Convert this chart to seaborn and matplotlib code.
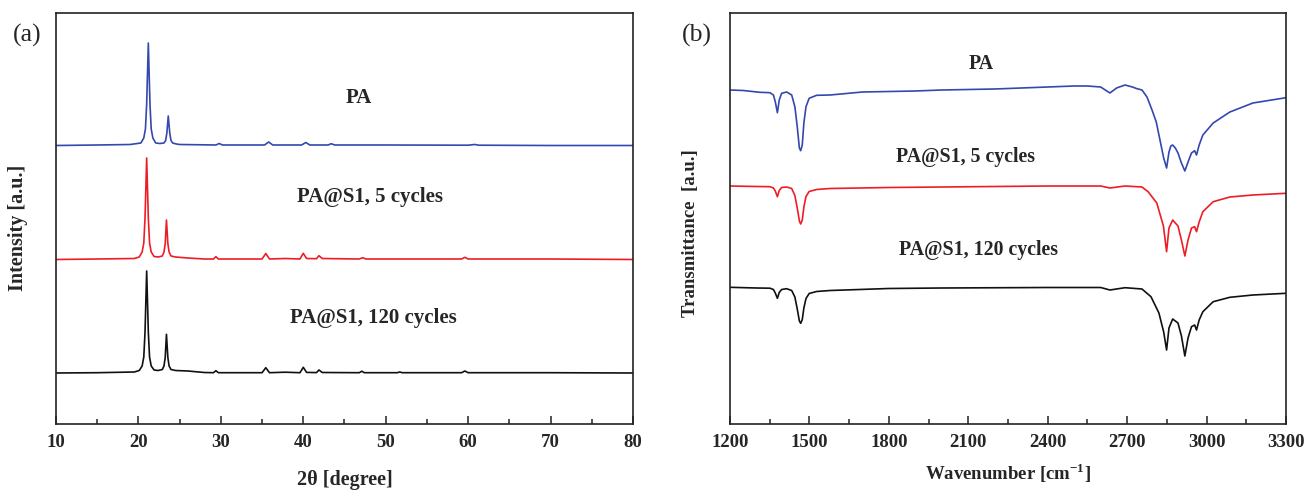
import matplotlib
matplotlib.use("Agg")
import matplotlib.pyplot as plt
from matplotlib.ticker import MultipleLocator
import seaborn as sns

# ---------------- XRD patterns (2theta in degrees, intensity in a.u., stacked) ----------------
xrd_pa_2theta = [10, 15, 19, 20.3, 20.65, 20.85, 21.0, 21.2, 21.4, 21.55, 21.75, 22.1,
                 22.6, 23.1, 23.3, 23.45, 23.62, 23.8, 23.95, 24.15, 24.6, 25,
                 29.4, 29.8, 30.2, 35.3, 35.8, 36.3, 39.8, 40.3, 40.8,
                 43.0, 43.4, 43.8, 50, 60, 60.8, 61.3, 70, 80]
xrd_pa_int = [278.5, 279, 279.5, 281, 286, 295, 320, 381, 320, 295, 286, 281,
              280.5, 281, 283.5, 291, 308, 291, 283.5, 281, 280, 279.5,
              279, 280.5, 279, 279, 282, 279, 279, 281.5, 279,
              279, 280.3, 279, 279, 278.8, 279.5, 278.8, 278.5, 278.5]

xrd_s1_5_2theta = [10, 15, 19.5, 20.1, 20.45, 20.65, 20.8, 21.0, 21.2, 21.35, 21.55, 21.9,
                   22.4, 22.9, 23.1, 23.25, 23.4, 23.57, 23.72, 23.95, 24.5, 26, 28,
                   29.1, 29.4, 29.7, 35.0, 35.45, 35.9, 37.8, 39.6, 40.0, 40.4,
                   41.6, 41.9, 42.3, 46.8, 47.2, 47.6, 59.2, 59.6, 60, 70, 80]
xrd_s1_5_int = [164.5, 165, 165.5, 167, 172, 181, 206, 266, 206, 181, 172, 167.5,
                167, 168, 172, 180.5, 204, 180.5, 172, 168, 167, 166, 165,
                165, 167.3, 165, 165, 170.5, 165, 165.5, 165, 170.7, 165.5,
                165.3, 168.3, 165.5, 165, 166.3, 165, 165, 166.7, 165, 165, 164.5]

xrd_s1_120_2theta = [10, 15, 19.5, 20.1, 20.45, 20.65, 20.8, 21.0, 21.2, 21.35, 21.55, 21.9,
                     22.4, 22.9, 23.1, 23.25, 23.4, 23.57, 23.72, 23.95, 24.5, 26, 28,
                     29.1, 29.4, 29.7, 35.0, 35.45, 35.9, 37.8, 39.6, 40.0, 40.4,
                     41.6, 41.9, 42.3, 46.8, 47.1, 47.4, 51.4, 51.7, 52, 59.2, 59.6, 60, 70, 80]
xrd_s1_120_int = [51, 51.3, 52, 53.5, 58, 67, 92, 153, 92, 67, 58, 54,
                  53.5, 54.5, 58, 66.5, 89.7, 66.5, 58, 54.5, 53.5, 53, 51.5,
                  51.3, 53.3, 51.3, 51.3, 56.3, 51.3, 51.8, 51.3, 56.7, 51.6,
                  51.4, 54, 51.5, 51.3, 52.8, 51.3, 51.3, 52, 51.3, 51.3, 53, 51.3, 51.3, 51]

# ---------------- FTIR spectra (wavenumber in cm^-1, transmittance in a.u., stacked) ----------------
ftir_pa_wn = [1200, 1250, 1313, 1351, 1364, 1371, 1379, 1386, 1395, 1414, 1433, 1445, 1454,
              1462, 1467, 1473, 1479, 1487, 1499, 1527, 1578, 1700, 1800, 1900, 2000, 2200,
              2400, 2500, 2550, 2600, 2635, 2660, 2692, 2720, 2735, 2756, 2775, 2794, 2810,
              2824, 2838, 2849, 2858, 2865, 2872, 2882, 2892, 2905, 2918, 2930, 2943, 2955,
              2962, 2972, 2986, 3025, 3088, 3175, 3300]
ftir_pa_t = [334, 333.5, 331.7, 331.3, 329, 322.3, 311.3, 324, 330.7, 332, 329, 317.3, 297.3,
             276, 273.3, 279, 301, 317.3, 325.7, 328.7, 329, 332, 332.5, 333, 334, 335,
             337, 338, 338, 337, 331, 336, 339, 337, 335.5, 334, 327, 314, 302,
             284, 266, 256, 272, 278, 279, 276, 271, 261, 253, 262, 271, 273.3,
             269, 279, 289, 301, 312, 321, 326.3]

ftir_s1_5_wn = [1200, 1300, 1351, 1364, 1371, 1379, 1386, 1395, 1414, 1433, 1445, 1454, 1462,
                1467, 1473, 1479, 1487, 1499, 1527, 1578, 1800, 2000, 2400, 2600, 2635, 2692,
                2756, 2779, 2812, 2837, 2849, 2858, 2872, 2892, 2905, 2918, 2930, 2943, 2955,
                2962, 2972, 2986, 3025, 3088, 3175, 3300]
ftir_s1_5_t = [238, 237.5, 237.3, 236, 233, 227.3, 233.5, 236.5, 237, 235.5, 228.5, 216, 203,
               200, 204, 217, 227.5, 232.5, 234.5, 235.5, 236.5, 237, 238, 238, 236, 238,
               237, 232.3, 221, 198, 172.3, 196, 204, 198, 184, 168, 184, 196, 197.3,
               192.3, 202, 212.3, 222.3, 227, 229, 230.7]

ftir_s1_120_wn = [1200, 1300, 1351, 1364, 1371, 1379, 1386, 1395, 1414, 1433, 1445, 1454, 1462,
                  1467, 1473, 1479, 1487, 1499, 1527, 1578, 1800, 2000, 2400, 2600, 2635, 2692,
                  2756, 2790, 2820, 2838, 2849, 2858, 2872, 2892, 2905, 2918, 2930, 2943, 2955,
                  2962, 2972, 2986, 3025, 3088, 3175, 3300]
ftir_s1_120_t = [136.7, 136, 135.8, 134.5, 131, 125.7, 131.5, 134.5, 135.3, 133.5, 127, 115, 103,
                 100.7, 104.5, 116, 125.5, 130.5, 132.5, 133.5, 135.5, 136, 136.5, 136.5, 134, 136.3,
                 135, 127.3, 111, 92, 74, 96, 105, 101, 88, 68, 86, 97.3, 99,
                 94, 104, 112.3, 122.3, 126.7, 129, 130.7]

sample_names = ["PA", "PA@S1, 5 cycles", "PA@S1, 120 cycles"]
line_colors = ["#3448ad", "#ee1d25", "#111111"]

xrd_ticks = [10, 20, 30, 40, 50, 60, 70, 80]
ftir_ticks = [1200, 1500, 1800, 2100, 2400, 2700, 3000, 3300]

sns.set_theme(style="ticks")
plt.rcParams["font.family"] = ["Liberation Serif", "DejaVu Serif"]
plt.rcParams["mathtext.fontset"] = "custom"
plt.rcParams["mathtext.rm"] = "Liberation Serif"
plt.rcParams["mathtext.bf"] = "Liberation Serif:bold"

W, H = 1306, 492
fig = plt.figure(figsize=(W / 100, H / 100), dpi=100)
ax_a = fig.add_axes([56 / W, 68 / H, 577 / W, 411 / H])
ax_b = fig.add_axes([730 / W, 68 / H, 556 / W, 411 / H])

lw = 1.2
for xs, ys, c in zip([xrd_pa_2theta, xrd_s1_5_2theta, xrd_s1_120_2theta],
                     [xrd_pa_int, xrd_s1_5_int, xrd_s1_120_int], line_colors):
    sns.lineplot(x=xs, y=ys, ax=ax_a, color=c, lw=lw, sort=True)

for xs, ys, c in zip([ftir_pa_wn, ftir_s1_5_wn, ftir_s1_120_wn],
                     [ftir_pa_t, ftir_s1_5_t, ftir_s1_120_t], line_colors):
    sns.lineplot(x=xs, y=ys, ax=ax_b, color=c, lw=lw, sort=True)

# XRD sample labels
kw_a = dict(fontsize=15, fontweight="bold", ha="center", va="center")
ax_a.text(46.7, 326, sample_names[0], **kw_a)
ax_a.text(48.1, 227, sample_names[1], **kw_a)
ax_a.text(48.5, 106, sample_names[2], **kw_a)
# FTIR sample labels
kw_b = dict(fontsize=14.3, fontweight="bold", ha="center", va="center")
ax_b.text(2150, 360, sample_names[0], **kw_b)
ax_b.text(2091, 267, sample_names[1], **kw_b)
ax_b.text(2137, 174, sample_names[2], **kw_b)

ax_a.set_xlim(10, 80)
ax_a.set_ylim(0, 411)
ax_a.set_xticks(xrd_ticks)
ax_a.xaxis.set_minor_locator(MultipleLocator(5))

ax_b.set_xlim(1200, 3300)
ax_b.set_ylim(0, 411)
ax_b.set_xticks(ftir_ticks)
ax_b.xaxis.set_minor_locator(MultipleLocator(150))

for ax in (ax_a, ax_b):
    ax.set_yticks([])
    for sp in ax.spines.values():
        sp.set_visible(True)
        sp.set_linewidth(1.2)
        sp.set_color("#222222")
    ax.tick_params(axis="x", which="major", direction="in", length=6, width=1.1,
                   color="#222222", pad=7)
    ax.tick_params(axis="x", which="minor", direction="in", length=3.5, width=1.1,
                   color="#222222")
    for t in ax.get_xticklabels():
        t.set_fontsize(13.5)
        t.set_fontweight("bold")

ax_a.set_xlabel("2θ [degree]", fontsize=14.5, fontweight="bold")
ax_a.xaxis.set_label_coords(0.5, -(480 - 424) / 411, transform=ax_a.transAxes)
ax_a.xaxis.label.set_va("center")
ax_a.set_ylabel("Intensity [a.u.]", fontsize=14.5, fontweight="bold")
ax_a.yaxis.set_label_coords((18 - 56) / 577, (424 - 228) / 411, transform=ax_a.transAxes)
ax_a.yaxis.label.set_va("center")

ax_b.set_xlabel(r"Wavenumber [cm$^{\mathbf{-1}}$]", fontsize=13.5, fontweight="bold")
ax_b.xaxis.set_label_coords(0.5, -(473 - 424) / 411, transform=ax_b.transAxes)
ax_b.xaxis.label.set_va("center")
ax_b.set_ylabel("Transmittance  [a.u.]", fontsize=13.5, fontweight="bold")
ax_b.yaxis.set_label_coords((690 - 730) / 556, (424 - 233) / 411, transform=ax_b.transAxes)
ax_b.yaxis.label.set_va("center")

fig.text(27 / W, 1 - 35 / H, "(a)", fontsize=18.5, ha="center", va="center")
fig.text(697 / W, 1 - 35 / H, "(b)", fontsize=18.5, ha="center", va="center")

fig.savefig("out.png", dpi=100)
